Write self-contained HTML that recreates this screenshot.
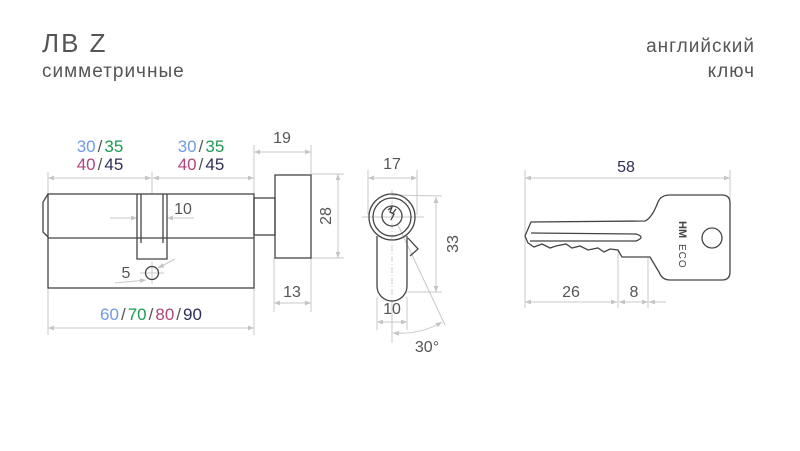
<!DOCTYPE html>
<html><head><meta charset="utf-8"><style>
html,body{margin:0;padding:0;background:#fff}
svg{display:block}
text{font-family:"Liberation Sans","DejaVu Sans",sans-serif}
</style></head><body>
<svg width="800" height="451" viewBox="0 0 800 451" xmlns="http://www.w3.org/2000/svg">
<defs>
<marker id="a" viewBox="0 0 10 10" refX="10" refY="5" markerWidth="8" markerHeight="6" orient="auto-start-reverse"><path d="M0,1 L10,5 L0,9 z" fill="#c4c4c4"/></marker>
</defs>
<g fill="#555">
<text x="42" y="52" font-size="26" letter-spacing="2">ЛВ Z</text>
<text x="42" y="77" font-size="19" letter-spacing="1">симметричные</text>
<text x="755" y="52" font-size="19" text-anchor="end" letter-spacing="1">английский</text>
<text x="755" y="77" font-size="19" text-anchor="end" letter-spacing="1">ключ</text>
</g>

<g stroke="#c8c8c8" stroke-width="1" fill="none">
<line x1="48" y1="172" x2="48" y2="194"/><line x1="152" y1="172" x2="152" y2="194"/>
<line x1="254" y1="145" x2="254" y2="194"/><line x1="311" y1="145" x2="311" y2="174"/>
<line x1="48" y1="178" x2="151" y2="178" marker-start="url(#a)" marker-end="url(#a)"/>
<line x1="153" y1="178" x2="254" y2="178" marker-start="url(#a)" marker-end="url(#a)"/>
<line x1="254" y1="152" x2="311" y2="152" marker-start="url(#a)" marker-end="url(#a)"/>
<line x1="311" y1="174" x2="344" y2="174"/><line x1="311" y1="258" x2="344" y2="258"/>
<line x1="338" y1="174" x2="338" y2="258" marker-start="url(#a)" marker-end="url(#a)"/>
<line x1="274" y1="258" x2="274" y2="312"/><line x1="311" y1="258" x2="311" y2="312"/>
<line x1="274" y1="303" x2="311" y2="303" marker-start="url(#a)" marker-end="url(#a)"/>
<line x1="48" y1="288" x2="48" y2="335"/><line x1="254" y1="288" x2="254" y2="335"/>
<line x1="48" y1="328" x2="254" y2="328" marker-start="url(#a)" marker-end="url(#a)"/>
<line x1="110" y1="218" x2="137" y2="218" marker-end="url(#a)"/>
<line x1="194" y1="218" x2="167" y2="218" marker-end="url(#a)"/>
<line x1="115" y1="283" x2="146" y2="280" marker-end="url(#a)"/>
<line x1="175" y1="259" x2="158" y2="268" marker-end="url(#a)"/>
<line x1="140" y1="273" x2="164" y2="273"/><line x1="152" y1="262" x2="152" y2="284"/>
<line x1="368" y1="170" x2="368" y2="215"/><line x1="417" y1="170" x2="417" y2="215"/>
<line x1="368" y1="178" x2="417" y2="178" marker-start="url(#a)" marker-end="url(#a)"/>
<line x1="392" y1="195" x2="442" y2="196"/><line x1="407" y1="292" x2="442" y2="292"/>
<line x1="436" y1="197" x2="436" y2="292" marker-start="url(#a)" marker-end="url(#a)"/>
<line x1="377" y1="297" x2="377" y2="330"/><line x1="407" y1="297" x2="407" y2="330"/>
<line x1="377" y1="322" x2="407" y2="322" marker-start="url(#a)" marker-end="url(#a)"/>
<line x1="392" y1="300" x2="392" y2="343"/>
<line x1="398" y1="225" x2="445" y2="325"/>
<path d="M393,333 Q420,335 442,322" marker-start="url(#a)" marker-end="url(#a)"/>
<line x1="362" y1="217" x2="424" y2="217"/>
<line x1="525" y1="170" x2="525" y2="308"/><line x1="730" y1="170" x2="730" y2="200"/>
<line x1="525" y1="178" x2="730" y2="178" marker-start="url(#a)" marker-end="url(#a)"/>
<line x1="618" y1="250" x2="618" y2="308"/><line x1="648" y1="258" x2="648" y2="308"/>
<line x1="525" y1="302" x2="617" y2="302" marker-start="url(#a)" marker-end="url(#a)"/>
<line x1="619" y1="302" x2="648" y2="302" marker-start="url(#a)" marker-end="url(#a)"/>
<line x1="666" y1="302" x2="649" y2="302" marker-end="url(#a)"/>
</g>
<g stroke="#ccc" stroke-dasharray="6,2,1,2" fill="none"><line x1="392" y1="190" x2="392" y2="298"/></g>

<g stroke="#444" stroke-width="1.3" fill="none">
<rect x="48" y="194" width="206" height="94"/>
<line x1="48" y1="238" x2="254" y2="238"/>
<path d="M48,194 L43,202 L43,232 L48,237"/>
<path d="M137,194 V259 H167 V194"/>
<line x1="141" y1="194" x2="141" y2="243"/><line x1="163" y1="194" x2="163" y2="243"/>
<circle cx="152" cy="273" r="6.5"/>
<rect x="254" y="198" width="21" height="37"/>
<rect x="275" y="175" width="36" height="83"/>
<circle cx="392" cy="217" r="23"/>
<circle cx="392" cy="217" r="19"/>
<circle cx="392" cy="216" r="10"/>
<path d="M377,236 V286 A15,15 0 0 0 407,286 V236"/>
<path d="M408,238 L418,249 L410,256"/>
<path d="M388,210 l4,-3 l-2,5 l4,2 l-3,6 M396,209 l-3,4"/>
<path d="M525,236 L531,222 L645,221 Q652,218 658,202 Q661,195 670,195 L722,195 Q730,195 730,203 L730,272 Q730,280 722,280 L670,280 Q662,280 659,272 L650,257 L622,257 L618,250 L610,249 L604,252 L598,248 L588,250 L580,246 L572,248 L566,244 L556,246 L550,248 L542,244 L534,247 L528,243 Z"/>
<path d="M531,233 L636,234 Q646,237 636,241 L530,241"/>
<circle cx="712" cy="238" r="10"/>
</g>
<text transform="translate(679,221) rotate(90)" font-size="11" font-weight="bold" fill="#444" font-family="Liberation Serif,serif">HM</text>
<text transform="translate(679,244) rotate(90)" font-size="10" fill="#444" letter-spacing="1">ECO</text>

<g font-size="17" text-anchor="middle">
<text x="100" y="152"><tspan fill="#6f9be6">30</tspan><tspan fill="#555" dx="2">/</tspan><tspan fill="#1e9a52" dx="2">35</tspan></text>
<text x="100" y="170"><tspan fill="#b0457d">40</tspan><tspan fill="#555" dx="2">/</tspan><tspan fill="#2e2e5a" dx="2">45</tspan></text>
<text x="201" y="152"><tspan fill="#6f9be6">30</tspan><tspan fill="#555" dx="2">/</tspan><tspan fill="#1e9a52" dx="2">35</tspan></text>
<text x="201" y="170"><tspan fill="#b0457d">40</tspan><tspan fill="#555" dx="2">/</tspan><tspan fill="#2e2e5a" dx="2">45</tspan></text>
<text x="151" y="320"><tspan fill="#6f9be6">60</tspan><tspan fill="#555" dx="2">/</tspan><tspan fill="#1e9a52" dx="2">70</tspan><tspan fill="#555" dx="2">/</tspan><tspan fill="#b0457d" dx="2">80</tspan><tspan fill="#555" dx="2">/</tspan><tspan fill="#2e2e5a" dx="2">90</tspan></text>
</g>
<g font-size="16" fill="#555" text-anchor="middle">
<text x="282" y="143">19</text>
<text x="183" y="214">10</text>
<text x="126" y="278">5</text>
<text x="292" y="297">13</text>
<text transform="translate(331,216) rotate(-90)">28</text>
<text x="392" y="169">17</text>
<text transform="translate(458,244) rotate(-90)">33</text>
<text x="392" y="314">10</text>
<text x="427" y="352">30°</text>
<text x="626" y="172" fill="#2e2e5a">58</text>
<text x="571" y="297">26</text>
<text x="634" y="297">8</text>
</g>
</svg>
</body></html>
